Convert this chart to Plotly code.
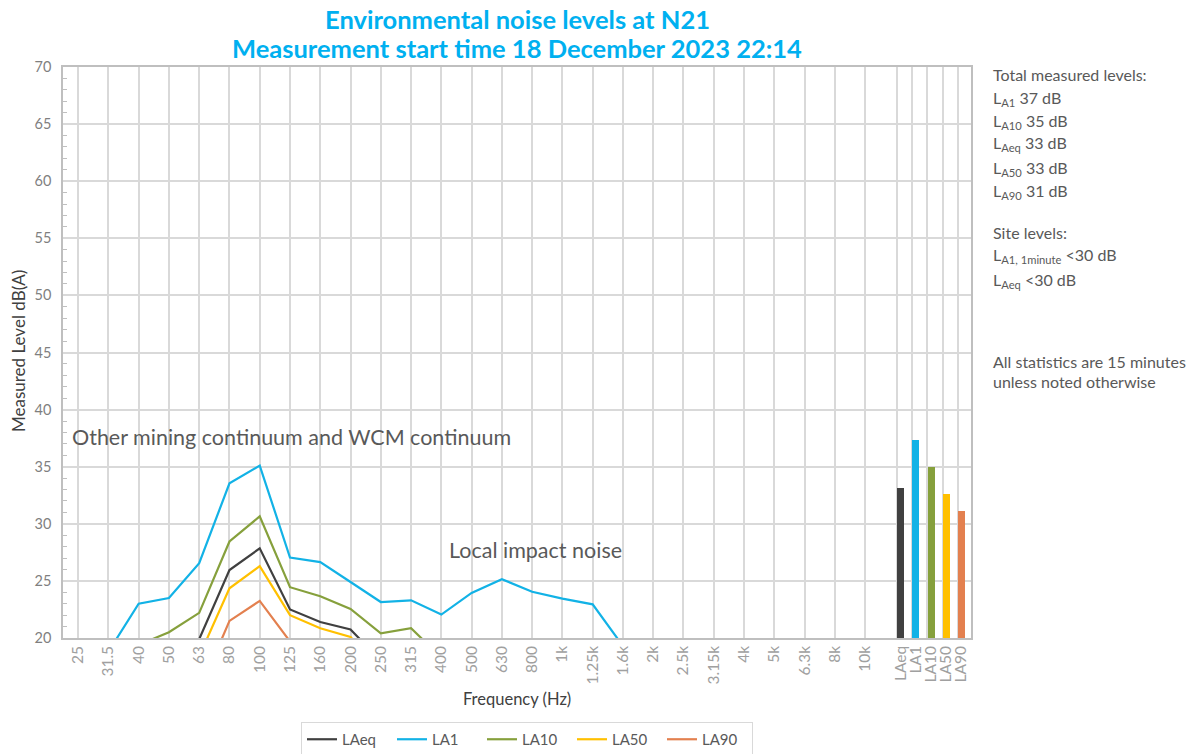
import plotly.graph_objects as go

freq_labels = ["25", "31.5", "40", "50", "63", "80", "100", "125", "160", "200",
               "250", "315", "400", "500", "630", "800", "1k", "1.25k", "1.6k",
               "2k", "2.5k", "3.15k", "4k", "5k", "6.3k", "8k", "10k"]

LAeq = [None, None, None, None, 19.9, 25.95, 27.85, 22.5, 21.4, 20.75, 18.0] + [None] * 16
LA1 = [None, 18.8, 23.0, 23.5, 26.55, 33.55, 35.1, 27.05, 26.65, 24.9, 23.15, 23.3,
       22.05, 23.95, 25.15, 24.05, 23.45, 22.95, 19.3] + [None] * 8
LA10 = [None, None, 19.4, 20.5, 22.2, 28.45, 30.65, 24.45, 23.65, 22.55, 20.4, 20.85,
        18.3] + [None] * 14
LA50 = [None, None, None, None, 18.4, 24.35, 26.3, 22.0, 20.85, 20.1, 17.0] + [None] * 16
LA90 = [None, None, None, None, 15.3, 21.5, 23.25, 19.7] + [None] * 19

total_labels = ["LAeq", "LA1", "LA10", "LA50", "LA90"]
total_values = [33.1, 37.3, 34.95, 32.65, 31.1]

colors = {"LAeq": "#404040", "LA1": "#12B2E6", "LA10": "#86A03C",
          "LA50": "#FFC000", "LA90": "#E3804F"}

FONT = "Lato"
n = len(freq_labels)
xf = list(range(n))
bar_x = [n + 0.18 + 0.5 * i for i in range(len(total_labels))]
bar_grid = [n + 0.06 + 0.5 * i for i in range(len(total_labels))]

# page offset (browser body margin) and plot-area geometry in page pixels
OFF = 8
FW, FH = 1194 - OFF, 754 - OFF
L, R, T, B = 63, 971, 67, 638
W, H = R - L, B - T

fig = go.Figure()
series = [("LAeq", LAeq), ("LA1", LA1), ("LA10", LA10), ("LA50", LA50), ("LA90", LA90)]
for name, vals in series:
    fig.add_trace(go.Scatter(x=xf, y=vals, mode="lines", name=name,
                             line=dict(color=colors[name], width=2.2),
                             connectgaps=False, hoverinfo="skip"))

fig.add_trace(go.Bar(x=bar_x, y=total_values, width=0.23,
                     marker=dict(color=[colors[k] for k in total_labels], line=dict(width=0)),
                     showlegend=False))

fig.update_layout(
    width=FW, height=FH,
    margin=dict(l=L - OFF, r=1194 - R, t=T - OFF, b=754 - B, autoexpand=False),
    paper_bgcolor="white", plot_bgcolor="white",
    font=dict(family=FONT, color="#595959"),
    showlegend=True,
    legend=dict(orientation="h", x=0.511, xanchor="center", y=(B - 722) / H, yanchor="top",
                bordercolor="#D9D9D9", borderwidth=1, bgcolor="white",
                font=dict(family=FONT, size=15, color="#595959"),
                entrywidth=45, entrywidthmode="pixels", itemwidth=30),
    bargap=0,
)

fig.update_xaxes(
    range=[-0.5, n + 2.5], automargin=False,
    tickmode="array", tickvals=xf + bar_x, ticktext=freq_labels + total_labels,
    tickangle=-90, tickfont=dict(family=FONT, size=15.5, color="#A0A0A0"),
    showgrid=False, zeroline=False,
    showline=True, linecolor="#BFBFBF", linewidth=1.5, mirror=True,
    ticks="",
    minor=dict(tickmode="array", tickvals=xf + bar_grid + [n + 2.5], showgrid=True,
               gridcolor="#D9D9D9", gridwidth=1.5, ticks=""),
)

fig.update_yaxes(
    range=[20, 70], dtick=5, tick0=20, automargin=False,
    tickfont=dict(family=FONT, size=14.5, color="#7F7F7F"), ticklabelstandoff=7,
    showgrid=True, gridcolor="#D9D9D9", gridwidth=1.5, zeroline=False,
    showline=True, linecolor="#BFBFBF", linewidth=1.5, mirror=True,
    ticks="",
    minor=dict(dtick=1, ticks="inside", ticklen=4, tickcolor="#BFBFBF", tickwidth=1, showgrid=False),
)

# titles as annotations
fig.add_annotation(x=0.5, xref="paper", y=(B - 19.5) / H, yref="paper",
                   text="Environmental noise levels at N21", showarrow=False,
                   xanchor="center", yanchor="middle",
                   font=dict(family=FONT, size=25.5, color="#00B0F0", weight="bold"))
fig.add_annotation(x=0.5, xref="paper", y=(B - 47.5) / H, yref="paper",
                   text="Measurement start time 18 December 2023 22:14", showarrow=False,
                   xanchor="center", yanchor="middle",
                   font=dict(family=FONT, size=25.5, color="#00B0F0", weight="bold"))
fig.add_annotation(x=0.5, xref="paper", y=(B - 699) / H, yref="paper",
                   text="Frequency (Hz)", showarrow=False, xanchor="center", yanchor="middle",
                   font=dict(family=FONT, size=16.5, color="#404040"))
fig.add_annotation(x=(18 - L) / W, xref="paper", y=(B - 351) / H, yref="paper",
                   text="Measured Level dB(A)", showarrow=False, textangle=-90,
                   xanchor="center", yanchor="middle",
                   font=dict(family=FONT, size=17, color="#404040"))

# in-plot annotations
fig.add_annotation(x=(70 - L) / W, xref="paper", y=37.6, yref="y",
                   text="Other mining continuum and WCM continuum",
                   showarrow=False, xanchor="left", yanchor="middle",
                   font=dict(family=FONT, size=21.5, color="#595959"))
fig.add_annotation(x=(447 - L) / W, xref="paper", y=27.7, yref="y", text="Local impact noise",
                   showarrow=False, xanchor="left", yanchor="middle",
                   font=dict(family=FONT, size=21.5, color="#595959"))

# right side text
side_lines = [
    ("Total measured levels:", 75),
    ("L<sub>A1</sub> 37 dB", 98),
    ("L<sub>A10</sub> 35 dB", 121),
    ("L<sub>Aeq</sub> 33 dB", 144),
    ("L<sub>A50</sub> 33 dB", 168),
    ("L<sub>A90</sub> 31 dB", 192),
    ("Site levels:", 232),
    ("L<sub>A1, 1minute</sub> &lt;30 dB", 256),
    ("L<sub>Aeq</sub> &lt;30 dB", 280),
    ("All statistics are 15 minutes", 361),
    ("unless noted otherwise", 381),
]
for txt, py in side_lines:
    fig.add_annotation(x=(991 - L) / W, xref="paper", y=(B - py) / H, yref="paper",
                       text=txt, showarrow=False, xanchor="left", yanchor="middle",
                       font=dict(family=FONT, size=16, color="#595959"))

fig.write_html("out.html")
